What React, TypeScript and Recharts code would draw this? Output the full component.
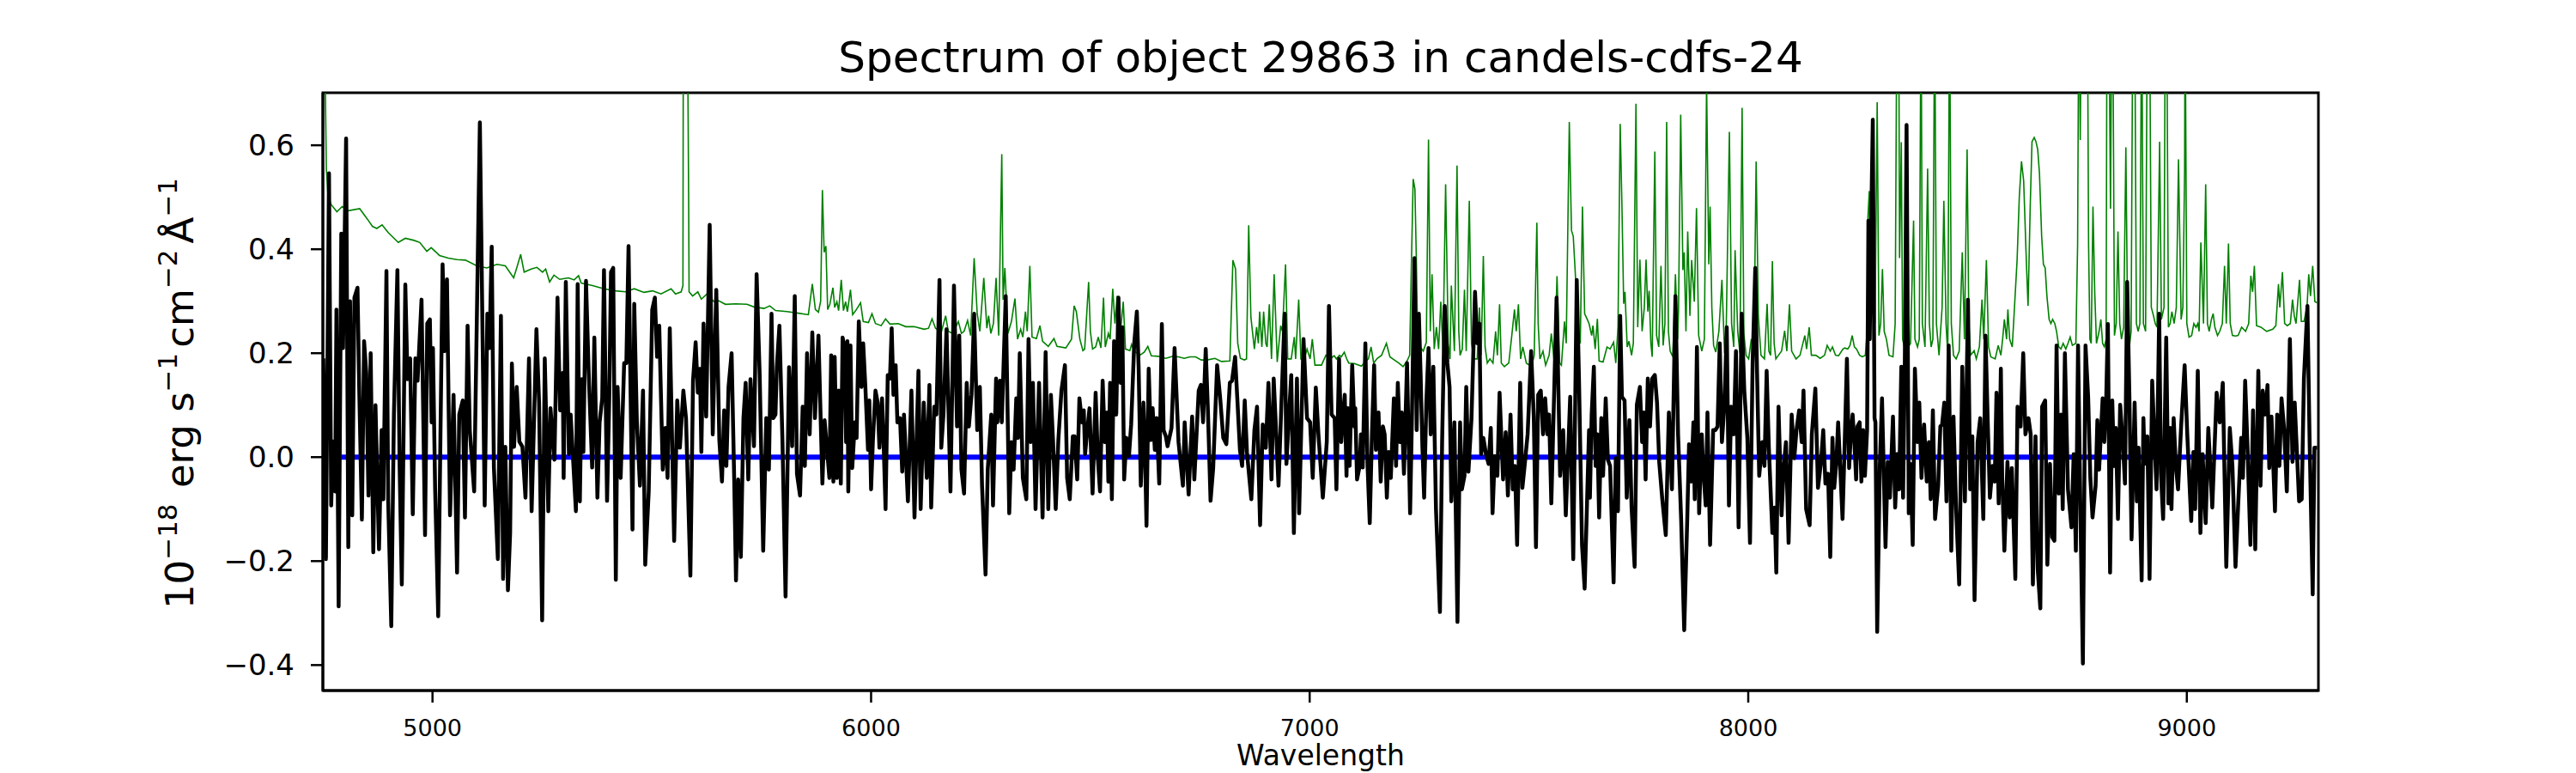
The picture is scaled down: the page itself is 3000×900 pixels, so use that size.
import { LineChart, Line, XAxis, YAxis, Label, ReferenceArea } from "recharts";

// observed flux, [wavelength, flux]
const flux: [number, number][] = [
  [4751, 0.19], [4757, -0.196], [4764, 0.546], [4769, -0.093], [4773, 0.03], [4778, -0.066], [4781, 0.284], [4786, -0.287],
  [4792, 0.43], [4796, 0.21], [4803, 0.613], [4808, -0.173], [4812, 0.3], [4817, -0.112], [4822, 0.307], [4829, 0.326],
  [4833, 0.128], [4839, -0.12], [4844, 0.223], [4849, 0.162], [4854, -0.074], [4859, 0.2], [4865, -0.183], [4870, 0.1],
  [4878, -0.177], [4884, 0.052], [4888, -0.081], [4895, 0.358], [4899, -0.085], [4906, -0.325], [4912, 0.082], [4920, 0.36],
  [4925, -0.017], [4930, -0.245], [4938, 0.332], [4943, 0.15], [4949, 0.19], [4955, -0.11], [4961, 0.19], [4966, 0.147],
  [4975, 0.303], [4983, -0.15], [4988, 0.257], [4994, 0.265], [4998, 0.067], [5001, 0.21], [5006, -0.062], [5013, -0.306],
  [5023, 0.371], [5028, 0.204], [5033, 0.342], [5040, -0.112], [5048, 0.12], [5056, -0.222], [5061, 0.082], [5069, 0.109],
  [5074, -0.116], [5080, 0.253], [5085, 0.052], [5095, -0.066], [5108, 0.644], [5119, -0.093], [5125, 0.276], [5130, 0.21],
  [5135, 0.405], [5140, -0.02], [5149, -0.196], [5156, 0.272], [5161, -0.234], [5166, 0.02], [5172, -0.256], [5177, -0.146],
  [5181, 0.18], [5186, 0.02], [5192, 0.135], [5198, 0.03], [5205, 0.02], [5212, -0.078], [5220, 0.19], [5226, -0.104],
  [5237, 0.246], [5243, 0.105], [5250, -0.314], [5256, 0.19], [5264, -0.104], [5269, 0.094], [5278, -0.005], [5285, 0.307],
  [5291, 0.09], [5297, 0.162], [5299, -0.04], [5304, 0.337], [5311, 0.006], [5315, 0.082],
  [5327, -0.104], [5331, 0.333], [5336, -0.085], [5340, 0.15], [5344, 0.01], [5350, 0.339], [5356, 0.166], [5364, -0.02],
  [5369, 0.23], [5376, -0.078], [5381, 0.067], [5387, 0.113], [5391, 0.36], [5398, -0.084], [5403, 0.113], [5407, 0.356],
  [5412, 0.364], [5418, -0.236], [5422, 0.135], [5429, -0.04], [5437, 0.181], [5442, 0.181], [5447, 0.406], [5456, -0.139],
  [5460, 0.295], [5466, 0.067], [5473, -0.055], [5480, 0.128], [5485, -0.207], [5493, -0.066], [5501, 0.284], [5507, 0.307],
  [5512, 0.193], [5517, 0.253], [5525, -0.024], [5531, 0.056], [5536, -0.04], [5541, 0.248], [5551, -0.161], [5558, 0.109],
  [5564, 0.018], [5572, 0.128], [5578, 0.075], [5588, -0.228], [5594, 0.147], [5600, 0.221], [5605, 0.124], [5610, 0.17],
  [5613, 0.01], [5618, 0.257], [5624, 0.078], [5632, 0.447], [5639, 0.044], [5647, 0.322], [5654, 0.033], [5660, -0.047],
  [5665, 0.09], [5670, -0.017], [5675, 0.135], [5682, 0.2], [5688, -0.047], [5692, -0.237], [5697, -0.043], [5703, -0.192],
  [5709, 0.075], [5714, 0.143], [5720, -0.043], [5725, 0.15], [5733, 0.021], [5739, 0.352], [5746, 0.158], [5754, -0.18],
  [5761, 0.075], [5767, -0.024], [5773, 0.276], [5777, 0.075], [5782, 0.082], [5785, 0.172], [5791, 0.253], [5798, 0.029],
  [5805, -0.268], [5813, 0.173], [5820, 0.021], [5826, 0.31], [5831, -0.032], [5838, -0.074], [5844, 0.097], [5849, -0.017],
  [5854, 0.2], [5860, 0.044], [5866, 0.24], [5872, 0.075], [5880, 0.234], [5889, -0.051], [5894, 0.071],
  [5905, -0.04], [5909, 0.196], [5914, -0.047], [5917, 0.193], [5922, -0.04], [5926, 0.128], [5931, -0.051], [5935, 0.23],
  [5940, 0.21], [5943, 0.029], [5946, 0.223], [5948, -0.066], [5953, 0.215], [5957, -0.021], [5963, 0.067], [5967, 0.037],
  [5972, 0.261], [5978, 0.135], [5982, 0.219], [5987, 0.135], [5993, 0.014], [5996, 0.109], [6000, -0.062], [6004, 0.029],
  [6010, 0.128], [6015, 0.105], [6019, 0.018], [6025, 0.113], [6028, 0.044], [6033, -0.1], [6038, 0.158], [6043, 0.151],
  [6047, 0.248], [6051, 0.12], [6056, 0.177], [6060, 0.067], [6066, 0.075], [6071, -0.028], [6075, 0.082], [6084, -0.085],
  [6092, 0.128], [6099, -0.116], [6108, 0.166], [6113, -0.1], [6120, 0.105], [6127, -0.04], [6133, 0.139], [6137, -0.097],
  [6144, 0.097], [6149, 0.082], [6156, 0.341], [6160, 0.018], [6165, 0.082], [6172, 0.246], [6181, -0.066], [6189, 0.33],
  [6196, 0.059], [6201, 0.234], [6206, -0.024], [6212, -0.07], [6218, 0.143], [6223, 0.059], [6229, 0.12], [6235, 0.276],
  [6242, 0.052], [6248, 0.135], [6253, -0.055], [6261, -0.226], [6266, -0.024], [6274, 0.082], [6278, -0.093], [6285, 0.151],
  [6288, 0.067], [6294, 0.147], [6298, 0.067], [6307, 0.31], [6315, -0.108], [6320, 0.029], [6325, -0.024], [6331, 0.113],
  [6335, 0.037], [6339, 0.2], [6346, -0.04], [6354, -0.081], [6359, 0.227], [6364, 0.029], [6369, 0.143], [6375, -0.1],
  [6383, 0.143], [6391, -0.116], [6398, 0.202], [6404, -0.1], [6410, 0.12], [6415, 0.029], [6421, -0.1], [6427, 0.033],
  [6434, 0.128], [6442, 0.177], [6447, -0.04], [6453, -0.081], [6460, 0.04], [6464, 0.04], [6470, -0.043], [6475, 0.113],
  [6481, 0.067], [6485, 0.09], [6488, 0.006], [6492, 0.044], [6498, 0.094], [6505, -0.07], [6512, 0.124], [6517, -0.002],
  [6522, -0.066], [6528, 0.147], [6533, 0.029], [6538, 0.086], [6541, -0.047], [6545, 0.143], [6549, -0.081], [6554, 0.223],
  [6559, 0.082], [6564, 0.307], [6569, 0.143], [6573, 0.25], [6577, -0.043], [6582, 0.037], [6588, 0.002], [6593, 0.063],
  [6600, 0.219], [6606, 0.28], [6610, 0.174], [6615, -0.055], [6621, 0.105], [6624, 0.033], [6628, -0.132], [6633, 0.17],
  [6638, 0.033], [6642, 0.094], [6647, 0.014], [6651, 0.075], [6657, -0.051], [6663, 0.256], [6667, 0.052], [6672, 0.04],
  [6676, 0.021], [6685, 0.056], [6692, 0.21], [6701, 0.029], [6711, -0.055], [6715, 0.067], [6724, -0.072], [6732, 0.078],
  [6737, -0.043], [6747, 0.128], [6752, 0.139], [6757, 0.067], [6763, 0.208], [6768, 0.09], [6774, -0.084], [6780, -0.021],
  [6789, 0.177], [6796, 0.113], [6803, 0.037], [6810, 0.025], [6818, 0.143], [6823, 0.147], [6830, 0.193], [6835, 0.113],
  [6841, 0.014], [6846, -0.017], [6852, 0.109], [6857, 0.01], [6867, -0.081], [6874, 0.052], [6880, 0.097], [6887, -0.131],
  [6893, 0.063], [6900, 0.018], [6906, 0.143], [6913, -0.043], [6918, 0.151], [6923, 0.059], [6929, -0.055], [6936, 0.113],
  [6943, 0.276], [6947, -0.013], [6952, 0.067], [6958, 0.158], [6964, -0.146], [6971, 0.151], [6976, -0.108], [6986, 0.227],
  [6994, 0.075], [7001, 0.067], [7007, -0.04], [7014, 0.134], [7020, 0.044], [7030, -0.078], [7039, 0.029], [7044, 0.291],
  [7050, 0.082],
  [7057, 0.075], [7061, -0.062], [7067, 0.189], [7072, 0.029], [7076, 0.082], [7080, 0.12], [7084, -0.036], [7087, 0.094],
  [7091, -0.017], [7097, 0.177], [7102, 0.059], [7104, 0.094], [7108, -0.043], [7114, -0.017], [7117, 0.044], [7121, -0.02],
  [7127, 0.219], [7132, -0.017], [7137, -0.127], [7142, 0.044], [7147, 0.177], [7151, 0.014], [7157, 0.086], [7162, -0.047],
  [7167, 0.059], [7171, 0.044], [7176, -0.078], [7180, 0.01], [7185, -0.04], [7192, 0.113], [7197, -0.017], [7201, 0.143],
  [7206, 0.029], [7210, 0.086], [7215, -0.032], [7222, 0.181], [7229, -0.108], [7233, 0.067], [7239, 0.383], [7244, 0.052],
  [7249, 0.276], [7253, 0.158], [7257, 0.021], [7261, -0.078], [7266, 0.105], [7271, 0.21], [7276, 0.044], [7282, 0.174],
  [7288, -0.1], [7297, -0.298], [7302, 0.029], [7308, 0.291], [7314, 0.181], [7319, 0.135], [7323, -0.085], [7330, 0.067],
  [7337, -0.317], [7343, 0.067], [7347, -0.062], [7353, -0.036], [7357, 0.135], [7362, -0.028], [7369, 0.075], [7377, 0.318],
  [7382, 0.219], [7387, 0.257], [7391, 0.006], [7396, 0.037], [7402, 0.006], [7408, -0.013], [7413, 0.056], [7417, -0.108],
  [7422, 0.002], [7428, -0.036], [7433, 0.124], [7441, -0.043], [7447, 0.048], [7452, -0.074], [7458, 0.082], [7463, -0.062],
  [7468, -0.017], [7473, -0.169], [7480, 0.143], [7485, -0.059], [7491, -0.009], [7497, 0.044], [7505, 0.204], [7511, 0.078],
  [7516, -0.173], [7521, 0.12], [7527, 0.128], [7532, 0.044], [7537, 0.113], [7542, 0.044], [7546, 0.082], [7551, -0.089],
  [7563, 0.307], [7571, -0.036], [7578, 0.052], [7584, -0.112], [7594, 0.116], [7601, -0.196], [7609, 0.341], [7614, 0.154],
  [7621, -0.169], [7627, -0.253],
  [7637, 0.052], [7639, -0.078], [7643, 0.082], [7648, 0.174], [7652, -0.017], [7656, 0.044], [7660, -0.116], [7665, 0.075],
  [7669, -0.036], [7675, 0.113], [7680, -0.005], [7685, -0.017], [7693, -0.241], [7698, -0.002], [7703, -0.104], [7708, 0.272],
  [7712, 0.116], [7718, 0.109], [7723, -0.078], [7729, 0.071], [7734, -0.097], [7741, -0.211], [7746, 0.101], [7753, 0.135],
  [7758, 0.029], [7762, 0.086], [7766, -0.043], [7771, 0.151], [7776, 0.059], [7781, 0.151], [7787, 0.158], [7792, 0.105],
  [7797, -0.009], [7804, -0.081], [7812, -0.15], [7819, 0.086], [7826, -0.062], [7834, 0.31], [7840, 0.044], [7847, -0.12],
  [7854, -0.333], [7861, -0.116], [7865, 0.025], [7870, -0.047], [7875, 0.067], [7878, -0.081], [7883, 0.212], [7888, -0.108],
  [7894, 0.044], [7897, -0.017], [7903, -0.093], [7907, 0.086], [7913, -0.169], [7920, 0.052], [7925, 0.052], [7930, 0.059],
  [7935, 0.219], [7940, 0.029], [7946, 0.105], [7951, 0.25], [7956, -0.093], [7961, 0.097], [7967, 0.044], [7972, 0.204],
  [7978, -0.135], [7985, 0.276], [7991, 0.128], [7998, 0.037], [8004, -0.165], [8010, 0.181], [8016, 0.364], [8020, 0.166],
  [8025, -0.036], [8032, 0.029], [8037, -0.017], [8042, 0.166], [8047, 0.018], [8055, -0.146], [8060, -0.097], [8064, -0.222],
  [8069, 0.097], [8076, -0.112], [8081, -0.017], [8086, 0.029], [8092, -0.165], [8099, 0.082], [8105, -0.002], [8110, 0.052],
  [8116, 0.09], [8122, 0.029], [8126, 0.128], [8132, -0.1], [8140, -0.131], [8145, 0.044], [8153, 0.132], [8159, -0.059],
  [8166, -0.009], [8171, 0.052], [8176, -0.051], [8182, -0.032], [8187, -0.192], [8192, 0.037], [8196, -0.059], [8201, -0.009],
  [8205, 0.067],
  [8215, -0.119], [8220, 0.029], [8225, 0.189], [8230, -0.021], [8234, 0.044], [8238, 0.082], [8242, 0.029], [8246, -0.043],
  [8249, 0.059], [8254, 0.067], [8258, -0.047], [8262, 0.052], [8266, -0.036], [8271, 0.052], [8274, 0.455], [8277, 0.227],
  [8280, 0.432], [8284, 0.649], [8288, 0.075], [8290, 0.067], [8294, -0.336], [8300, -0.017], [8305, 0.113], [8313, -0.173],
  [8318, -0.009], [8323, -0.078], [8330, 0.078], [8335, -0.097], [8340, 0.006], [8344, -0.062], [8349, 0.174], [8353, -0.078],
  [8357, 0.181], [8361, 0.639], [8366, -0.108], [8370, -0.013], [8375, -0.169], [8380, 0.17], [8386, 0.029], [8390, 0.105],
  [8395, -0.04], [8401, 0.063], [8407, -0.047], [8412, 0.029], [8416, -0.081], [8421, 0.09], [8426, -0.119], [8433, -0.055],
  [8438, 0.059], [8442, 0.063], [8447, 0.105], [8452, -0.085], [8457, 0.215], [8463, -0.18], [8468, 0.078], [8474, -0.1],
  [8481, -0.245], [8488, 0.174], [8494, -0.085], [8501, 0.303], [8506, -0.062], [8511, 0.04], [8516, -0.275], [8523, 0.029],
  [8529, 0.075], [8536, -0.119], [8541, 0.234], [8546, 0.071], [8551, -0.078], [8557, -0.017], [8562, -0.047], [8566, 0.124],
  [8571, -0.089], [8576, 0.17], [8579, -0.04], [8584, -0.18], [8591, -0.009], [8596, -0.116], [8601, -0.021], [8609, -0.234],
  [8614, 0.097], [8621, 0.059], [8627, 0.2], [8632, 0.044], [8639, 0.075], [8644, 0.044], [8649, -0.245], [8655, 0.04],
  [8660, -0.215], [8666, -0.291], [8670, 0.097], [8677, 0.109], [8682, -0.207], [8688, -0.013], [8693, -0.154], [8698, -0.161],
  [8703, 0.215], [8708, -0.07], [8713, 0.082], [8717, -0.1], [8722, 0.2], [8729, -0.062], [8737, -0.135], [8742, 0.006],
  [8747, -0.18], [8752, 0.215], [8758, -0.139], [8763, -0.397], [8769, 0.215], [8775, 0.116], [8780, -0.04], [8785, -0.116],
  [8792, -0.055], [8796, 0.071], [8800, -0.024], [8804, 0.044], [8808, 0.113], [8812, 0.029], [8816, 0.105], [8820, 0.256],
  [8825, -0.222], [8830, 0.109], [8834, -0.017], [8838, 0.056], [8843, -0.119], [8848, 0.101], [8854, 0.029], [8859, -0.051],
  [8864, 0.337], [8869, 0.12], [8874, -0.158], [8881, 0.105], [8886, -0.085], [8890, 0.018], [8897, -0.237], [8901, 0.075],
  [8904, -0.013], [8910, 0.04], [8915, -0.234], [8921, 0.147], [8927, 0.018], [8931, -0.062], [8937, 0.276], [8941, -0.032],
  [8946, -0.119], [8953, 0.23], [8958, -0.089], [8962, 0.056], [8965, -0.1], [8970, 0.075], [8975, -0.017], [8980, -0.062],
  [8987, 0.059], [8995, 0.177], [9001, 0.044], [9010, -0.123], [9015, 0.01], [9019, -0.1], [9025, 0.166], [9031, -0.146],
  [9036, 0.006], [9043, -0.127], [9049, 0.056], [9058, -0.097], [9068, 0.124], [9075, 0.067], [9082, 0.143], [9090, -0.211],
  [9098, 0.056], [9104, -0.017], [9111, -0.211], [9117, -0.093], [9124, 0.037], [9128, -0.04], [9133, 0.147], [9138, 0.029],
  [9145, -0.169], [9151, 0.09], [9156, -0.177], [9163, 0.166], [9168, -0.055], [9173, 0.128], [9179, 0.082], [9184, 0.139],
  [9188, -0.021], [9193, 0.078], [9201, -0.104], [9206, 0.082], [9211, -0.017], [9216, 0.113], [9222, 0.052], [9228, -0.066],
  [9235, 0.227], [9241, -0.009], [9246, 0.105], [9256, -0.085], [9262, -0.081], [9267, 0.151], [9275, 0.291], [9280, 0.029],
  [9287, -0.264], [9291, 0.018], [9297, 0.018],
];

// flux uncertainty (green), [wavelength, sigma]; spikes run off the top of the axes
const sigma: [number, number][] = [
  [4750, 0.95], [4755, 0.75], [4758, 0.554], [4762, 0.5], [4769, 0.486], [4782, 0.472], [4794, 0.482], [4808, 0.474],
  [4834, 0.478], [4854, 0.455], [4863, 0.444], [4873, 0.44], [4885, 0.447], [4899, 0.432], [4922, 0.413], [4938, 0.421],
  [4958, 0.417], [4971, 0.413], [4987, 0.396], [4997, 0.403], [5016, 0.388], [5036, 0.383], [5056, 0.38], [5075, 0.379],
  [5101, 0.368], [5124, 0.364], [5147, 0.371], [5166, 0.368], [5185, 0.345], [5192, 0.364], [5201, 0.39], [5209, 0.356],
  [5225, 0.362], [5238, 0.365], [5251, 0.356], [5258, 0.362], [5267, 0.337], [5277, 0.35], [5290, 0.342], [5310, 0.345],
  [5323, 0.341], [5333, 0.349], [5339, 0.335], [5365, 0.33], [5391, 0.324], [5417, 0.32], [5440, 0.318], [5460, 0.324],
  [5482, 0.317], [5502, 0.32], [5521, 0.314], [5544, 0.324], [5554, 0.314], [5567, 0.318], [5571, 0.33], [5572, 0.9],
  [5581, 0.9], [5584, 0.5], [5585, 0.318], [5593, 0.31], [5605, 0.318], [5613, 0.304], [5626, 0.314], [5642, 0.299],
  [5652, 0.301], [5668, 0.294], [5691, 0.295], [5717, 0.294], [5733, 0.289], [5756, 0.286], [5769, 0.291], [5782, 0.282],
  [5808, 0.28], [5834, 0.277], [5857, 0.274], [5866, 0.333], [5873, 0.284], [5880, 0.279], [5885, 0.3], [5889, 0.514],
  [5893, 0.394], [5897, 0.406], [5901, 0.284], [5906, 0.294],
  [5913, 0.326], [5917, 0.288], [5922, 0.299], [5926, 0.282], [5932, 0.341], [5937, 0.282], [5942, 0.299], [5946, 0.28],
  [5953, 0.322], [5958, 0.274], [5965, 0.282], [5976, 0.297], [5982, 0.261], [5994, 0.259], [6002, 0.276], [6010, 0.257],
  [6023, 0.253], [6033, 0.266], [6043, 0.256], [6062, 0.257], [6079, 0.251], [6098, 0.251], [6121, 0.246], [6131, 0.248],
  [6139, 0.266], [6147, 0.248], [6160, 0.24], [6170, 0.272], [6176, 0.242], [6186, 0.238], [6199, 0.261], [6206, 0.238],
  [6212, 0.242], [6220, 0.263], [6227, 0.234], [6235, 0.383], [6242, 0.276], [6248, 0.242], [6257, 0.345], [6264, 0.248],
  [6268, 0.272], [6273, 0.238], [6279, 0.257], [6285, 0.345], [6291, 0.234], [6298, 0.583], [6301, 0.303], [6305, 0.364],
  [6312, 0.238], [6320, 0.261], [6328, 0.305], [6334, 0.227], [6341, 0.246], [6346, 0.231], [6352, 0.28], [6356, 0.242],
  [6362, 0.368], [6367, 0.231], [6377, 0.228], [6385, 0.253], [6391, 0.223], [6404, 0.213], [6417, 0.228], [6424, 0.213],
  [6444, 0.21], [6457, 0.227], [6463, 0.291], [6468, 0.28], [6476, 0.227], [6483, 0.205],
  [6487, 0.208], [6496, 0.337], [6500, 0.242], [6505, 0.208], [6512, 0.212], [6518, 0.231], [6524, 0.21], [6530, 0.307],
  [6534, 0.212], [6541, 0.238], [6545, 0.227], [6551, 0.324], [6556, 0.257], [6561, 0.31], [6567, 0.227], [6575, 0.299],
  [6580, 0.208], [6590, 0.205], [6594, 0.217], [6600, 0.204], [6613, 0.196], [6623, 0.202], [6631, 0.213], [6639, 0.195],
  [6655, 0.194], [6672, 0.19], [6688, 0.194], [6701, 0.193], [6714, 0.19], [6727, 0.193], [6740, 0.193], [6753, 0.187],
  [6766, 0.187], [6784, 0.19], [6799, 0.184], [6818, 0.185], [6825, 0.379], [6831, 0.362], [6836, 0.219], [6842, 0.19],
  [6851, 0.187], [6856, 0.189], [6861, 0.446], [6866, 0.269], [6874, 0.208], [6879, 0.25], [6883, 0.219], [6886, 0.28],
  [6891, 0.212], [6895, 0.28], [6900, 0.219], [6903, 0.212], [6908, 0.294], [6913, 0.189], [6919, 0.352], [6926, 0.183],
  [6934, 0.253], [6938, 0.242], [6945, 0.371], [6950, 0.189], [6958, 0.189], [6965, 0.231], [6968, 0.189], [6975, 0.303],
  [6980, 0.189], [6988, 0.189], [6994, 0.208], [7001, 0.189], [7006, 0.227], [7012, 0.177], [7027, 0.177], [7037, 0.196],
  [7046, 0.189], [7056, 0.195],
  [7061, 0.189], [7068, 0.196], [7072, 0.193], [7079, 0.202], [7084, 0.19], [7089, 0.181], [7102, 0.18], [7118, 0.175],
  [7128, 0.185], [7134, 0.189], [7140, 0.212], [7146, 0.181], [7154, 0.19], [7164, 0.196], [7175, 0.219], [7183, 0.193],
  [7193, 0.187], [7203, 0.181], [7213, 0.174], [7222, 0.185], [7228, 0.196], [7232, 0.371], [7236, 0.535], [7240, 0.516],
  [7243, 0.39], [7246, 0.242], [7252, 0.212], [7259, 0.204], [7266, 0.221], [7271, 0.611], [7275, 0.242], [7279, 0.352],
  [7284, 0.208], [7289, 0.25], [7294, 0.208], [7299, 0.299], [7304, 0.204], [7310, 0.525], [7316, 0.219], [7320, 0.189],
  [7323, 0.33], [7330, 0.204], [7336, 0.561], [7340, 0.242], [7343, 0.196], [7348, 0.208], [7353, 0.322], [7357, 0.204],
  [7364, 0.493], [7369, 0.219], [7374, 0.189], [7382, 0.189], [7387, 0.288], [7391, 0.196], [7396, 0.387], [7400, 0.212],
  [7405, 0.181], [7411, 0.189], [7418, 0.181], [7424, 0.242], [7428, 0.196], [7433, 0.294], [7437, 0.181], [7444, 0.174],
  [7454, 0.181], [7460, 0.227], [7467, 0.284], [7471, 0.242], [7476, 0.294], [7481, 0.189], [7486, 0.212], [7494, 0.181],
  [7506, 0.174], [7512, 0.196], [7518, 0.451], [7521, 0.257], [7525, 0.189], [7532, 0.204], [7538, 0.177], [7546, 0.196],
  [7551, 0.238], [7558, 0.181], [7564, 0.348], [7570, 0.181], [7574, 0.177], [7581, 0.261], [7585, 0.219], [7592, 0.645],
  [7597, 0.436], [7601, 0.425], [7607, 0.333], [7611, 0.242], [7617, 0.219], [7622, 0.482], [7627, 0.276], [7633, 0.265],
  [7637, 0.257], [7643, 0.234],
  [7646, 0.253], [7651, 0.208], [7656, 0.266], [7660, 0.185], [7669, 0.183], [7678, 0.212], [7685, 0.208], [7693, 0.221],
  [7698, 0.181], [7703, 0.25], [7708, 0.641], [7712, 0.485], [7716, 0.295], [7719, 0.318], [7724, 0.212], [7728, 0.223],
  [7734, 0.196], [7738, 0.219], [7744, 0.68], [7748, 0.25], [7753, 0.38], [7758, 0.242], [7763, 0.288], [7767, 0.38],
  [7771, 0.28], [7774, 0.32], [7778, 0.219], [7781, 0.193], [7787, 0.588], [7791, 0.234], [7796, 0.212], [7801, 0.368],
  [7806, 0.215], [7810, 0.257], [7814, 0.645], [7818, 0.242], [7822, 0.204], [7828, 0.193], [7834, 0.352], [7839, 0.227],
  [7841, 0.28], [7846, 0.659], [7851, 0.36], [7854, 0.394], [7858, 0.242], [7862, 0.434], [7867, 0.272], [7871, 0.379],
  [7877, 0.299], [7882, 0.479], [7887, 0.234], [7894, 0.204], [7900, 0.227], [7905, 0.72], [7910, 0.371], [7913, 0.482],
  [7917, 0.287], [7921, 0.215], [7926, 0.202], [7933, 0.242], [7940, 0.341], [7946, 0.2], [7950, 0.257], [7957, 0.626],
  [7962, 0.257], [7967, 0.212], [7970, 0.398], [7976, 0.242], [7981, 0.2], [7986, 0.672], [7990, 0.238], [7995, 0.196],
  [8001, 0.189], [8007, 0.227], [8013, 0.212], [8018, 0.569], [8023, 0.272], [8029, 0.196], [8037, 0.189], [8043, 0.295],
  [8047, 0.204], [8051, 0.196], [8055, 0.377], [8059, 0.219], [8063, 0.189], [8069, 0.196], [8076, 0.204], [8083, 0.243],
  [8088, 0.204], [8094, 0.294], [8099, 0.204], [8109, 0.189], [8118, 0.196], [8129, 0.234], [8133, 0.208], [8139, 0.25],
  [8144, 0.196], [8154, 0.196], [8164, 0.19], [8174, 0.196], [8180, 0.215], [8187, 0.204], [8192, 0.212], [8199, 0.196],
  [8206, 0.195], [8216, 0.208],
  [8220, 0.21], [8227, 0.208], [8232, 0.215], [8237, 0.234], [8242, 0.212], [8247, 0.208], [8254, 0.196], [8260, 0.193],
  [8267, 0.196], [8271, 0.242], [8273, 0.463], [8276, 0.512], [8279, 0.257], [8285, 0.653], [8289, 0.257], [8294, 0.683],
  [8298, 0.234], [8302, 0.257], [8306, 0.362], [8310, 0.242], [8315, 0.227], [8321, 0.196], [8330, 0.193], [8335, 0.257],
  [8339, 0.9], [8343, 0.9], [8345, 0.383], [8349, 0.606], [8352, 0.227], [8358, 0.204], [8365, 0.212], [8370, 0.219],
  [8377, 0.455], [8380, 0.227], [8386, 0.212], [8390, 0.227], [8394, 0.9], [8397, 0.257], [8403, 0.212], [8409, 0.555],
  [8413, 0.257], [8417, 0.212], [8421, 0.227], [8425, 0.9], [8429, 0.257], [8435, 0.196], [8442, 0.288], [8446, 0.493],
  [8451, 0.257], [8455, 0.196], [8459, 0.9], [8463, 0.257], [8468, 0.196], [8474, 0.189], [8481, 0.204], [8488, 0.394],
  [8493, 0.227], [8499, 0.592], [8503, 0.257], [8507, 0.196], [8515, 0.205], [8520, 0.189], [8527, 0.212], [8533, 0.303],
  [8537, 0.227], [8543, 0.379], [8548, 0.212], [8553, 0.193], [8563, 0.189], [8570, 0.215], [8576, 0.196], [8580, 0.227],
  [8584, 0.265], [8589, 0.227], [8592, 0.284], [8596, 0.227], [8602, 0.212], [8607, 0.288], [8613, 0.379], [8618, 0.5],
  [8623, 0.569], [8628, 0.531], [8634, 0.379], [8638, 0.291], [8643, 0.485], [8647, 0.607], [8652, 0.615], [8656, 0.607],
  [8660, 0.592], [8664, 0.546], [8669, 0.425], [8673, 0.371], [8677, 0.364], [8681, 0.31], [8686, 0.265], [8690, 0.257],
  [8694, 0.265], [8699, 0.257], [8703, 0.242], [8708, 0.212], [8713, 0.208], [8718, 0.219], [8724, 0.208], [8729, 0.219],
  [8734, 0.231], [8739, 0.215], [8747, 0.219], [8751, 0.409], [8754, 0.95], [8757, 0.61], [8760, 0.95], [8765, 0.95],
  [8769, 0.95], [8773, 0.95], [8776, 0.409], [8779, 0.227], [8782, 0.219], [8786, 0.482], [8790, 0.318], [8794, 0.219],
  [8800, 0.242], [8804, 0.265], [8808, 0.219], [8812, 0.212], [8816, 0.227], [8818, 0.9], [8822, 0.9], [8826, 0.478],
  [8829, 0.9], [8831, 0.9], [8835, 0.234], [8839, 0.257], [8843, 0.434], [8847, 0.257], [8851, 0.227], [8856, 0.25],
  [8861, 0.596], [8865, 0.257], [8869, 0.212], [8873, 0.242], [8877, 0.9], [8881, 0.9], [8885, 0.257], [8889, 0.242],
  [8893, 0.257], [8897, 0.9], [8901, 0.257], [8906, 0.242], [8910, 0.9], [8915, 0.9], [8919, 0.288], [8924, 0.272],
  [8928, 0.257], [8932, 0.25], [8938, 0.607], [8942, 0.265], [8948, 0.288], [8951, 0.9], [8954, 0.9], [8958, 0.25],
  [8962, 0.257], [8966, 0.28], [8971, 0.257], [8976, 0.288], [8981, 0.573], [8987, 0.265], [8991, 0.288], [8995, 0.555],
  [8996, 0.9], [9000, 0.257], [9005, 0.231], [9011, 0.234], [9016, 0.257], [9021, 0.25], [9025, 0.257], [9028, 0.242],
  [9032, 0.413], [9038, 0.257], [9043, 0.525], [9047, 0.257], [9051, 0.242], [9056, 0.265], [9060, 0.276], [9064, 0.25],
  [9070, 0.234], [9075, 0.242], [9081, 0.257], [9086, 0.368], [9090, 0.257], [9095, 0.411], [9099, 0.257], [9104, 0.234],
  [9111, 0.233], [9117, 0.234], [9125, 0.25], [9134, 0.242], [9141, 0.257], [9146, 0.349], [9150, 0.318], [9154, 0.368],
  [9159, 0.253], [9169, 0.25], [9182, 0.242], [9196, 0.246], [9203, 0.253], [9209, 0.333], [9212, 0.288], [9218, 0.356],
  [9223, 0.257], [9229, 0.253], [9236, 0.257], [9241, 0.303], [9245, 0.272], [9249, 0.257], [9257, 0.341], [9261, 0.261],
  [9267, 0.261], [9274, 0.288], [9278, 0.352], [9282, 0.31], [9287, 0.368], [9292, 0.299], [9297, 0.297],
];

const zeroLine: [number, number][] = [[4792, 0], [9293, 0]];

const xTicks = [5000, 6000, 7000, 8000, 9000];
const yTicks = [-0.4, -0.2, 0, 0.2, 0.4, 0.6];
const xDomain: [number, number] = [4750, 9300];
const yDomain: [number, number] = [-0.449, 0.701];

const FONT = "'DejaVu Sans', sans-serif";

const toRows = (pts: [number, number][]) => pts.map(([w, v]) => ({ w, v }));

const fmtY = (v: number) => (v < 0 ? "\u2212" + Math.abs(v).toFixed(1) : v.toFixed(1));

function YAxisTitle() {
  const cx = 225;
  const cy = 458;
  return (
    <text x={cx} y={cy} transform={`rotate(-90 ${cx} ${cy})`} textAnchor="middle" fontSize={45} fill="#000" fontFamily={FONT}>
      10<tspan dy={-19} fontSize={31}>{"\u221218"}</tspan>
      <tspan dy={19} dx={4}> erg s</tspan>
      <tspan dy={-19} fontSize={31}>{"\u22121"}</tspan>
      <tspan dy={19} dx={6}>cm</tspan>
      <tspan dy={-19} fontSize={31}>{"\u22122"}</tspan>
      <tspan dy={19} dx={7}>Å</tspan>
      <tspan dy={-19} fontSize={31}>{"\u22121"}</tspan>
    </text>
  );
}

function XAxisTitle() {
  return (
    <text x={1538} y={891} textAnchor="middle" fontSize={33} fill="#000" fontFamily={FONT}>
      Wavelength
    </text>
  );
}

export default function App() {
  return (
    <div style={{ position: "absolute", left: 0, top: 0, width: 3000, height: 900, background: "#fff", fontFamily: FONT }}>
      <div
        style={{
          position: "absolute",
          left: 376,
          width: 2324,
          top: 42,
          textAlign: "center",
          fontSize: 50,
          lineHeight: "50px",
          color: "#000",
          whiteSpace: "nowrap",
        }}
      >
        Spectrum of object 29863 in candels-cdfs-24
      </div>
      <LineChart width={3000} height={900} margin={{ top: 108, right: 300, bottom: 0, left: 0 }}>
        <XAxis
          type="number"
          dataKey="w"
          domain={xDomain}
          ticks={xTicks}
          allowDataOverflow
          height={96}
          tickSize={14}
          tickMargin={20}
          tick={{ fontSize: 27, fill: "#000", fontFamily: FONT }}
          axisLine={{ stroke: "#000", strokeWidth: 3 }}
          tickLine={{ stroke: "#000", strokeWidth: 2.5 }}
          label={<Label content={XAxisTitle} />}
        />
        <YAxis
          type="number"
          dataKey="v"
          domain={yDomain}
          ticks={yTicks}
          allowDataOverflow
          width={376}
          tickSize={14}
          tickMargin={19}
          tickFormatter={fmtY}
          tick={{ fontSize: 34, fill: "#000", fontFamily: FONT }}
          axisLine={{ stroke: "#000", strokeWidth: 3 }}
          tickLine={{ stroke: "#000", strokeWidth: 2.5 }}
          label={<Label content={YAxisTitle} />}
        />
        <ReferenceArea x1={xDomain[0]} x2={xDomain[1]} y1={yDomain[0]} y2={yDomain[1]} fill="none" stroke="#000" strokeWidth={3} />
        <Line data={toRows(sigma)} dataKey="v" stroke="#008000" strokeWidth={1.6} dot={false} isAnimationActive={false} />
        <Line data={toRows(zeroLine)} dataKey="v" stroke="#0000ff" strokeWidth={6} dot={false} isAnimationActive={false} />
        <Line data={toRows(flux)} dataKey="v" stroke="#000" strokeWidth={4.5} strokeLinejoin="round" dot={false} isAnimationActive={false} />
      </LineChart>
    </div>
  );
}
